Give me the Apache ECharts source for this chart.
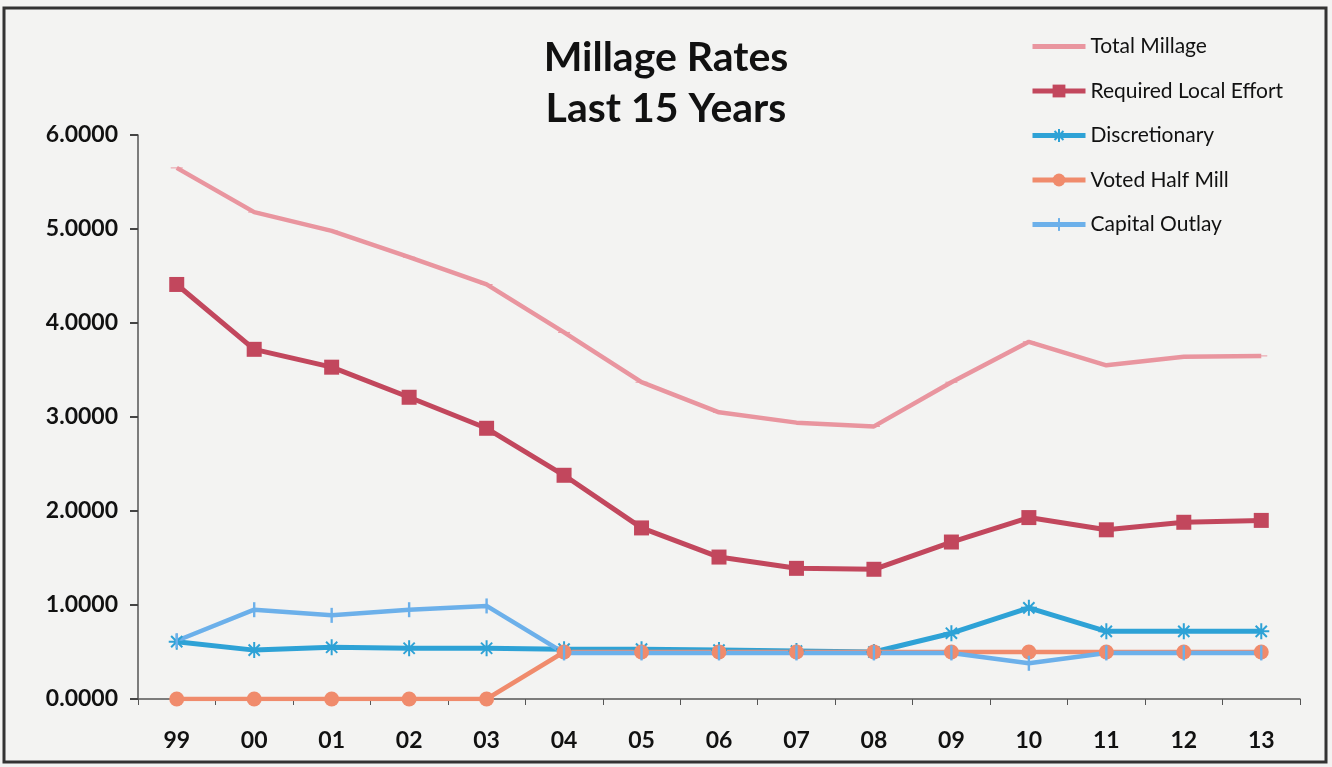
<!DOCTYPE html>
<html><head><meta charset="utf-8">
<script src="https://cdn.jsdelivr.net/npm/echarts@6/dist/echarts.min.js"></script>
<style>html,body{margin:0;padding:0;background:#f3f3f2}#c{width:1332px;height:767px}</style>
</head><body><div id="c"></div>
<script>
const years = ['99','00','01','02','03','04','05','06','07','08','09','10','11','12','13'];
const totalMillage = [5.65,5.18,4.98,4.70,4.41,3.90,3.37,3.05,2.94,2.90,3.37,3.80,3.55,3.64,3.65];
const requiredLocalEffort = [4.41,3.72,3.53,3.21,2.88,2.38,1.82,1.51,1.39,1.38,1.67,1.93,1.80,1.88,1.90];
const discretionary = [0.61,0.52,0.55,0.54,0.54,0.53,0.53,0.52,0.51,0.50,0.70,0.97,0.72,0.72,0.72];
const votedHalfMill = [0,0,0,0,0,0.50,0.50,0.50,0.50,0.50,0.50,0.50,0.50,0.50,0.50];
const capitalOutlay = [0.62,0.95,0.89,0.95,0.99,0.49,0.49,0.49,0.49,0.49,0.49,0.38,0.49,0.49,0.49];
const yTicks = [0,1,2,3,4,5,6];

const font = 'Lato, "Open Sans", sans-serif';
const C = {
  total:'#e9959f', req:'#c2475d', disc:'#2ea2d6', voted:'#f08b6c', cap:'#6cb0ea'
};
const asterisk = 'path://M5,0L5,10M0,5L10,5M1.5,1.5L8.5,8.5M8.5,1.5L1.5,8.5';
const vbar = 'path://M0,0M10,10M4.2,0L5.8,0L5.8,10L4.2,10Z';
const hbar = 'path://M0,0M10,10M0,4.6L10,4.6L10,5.4L0,5.4Z';

const chart = echarts.init(document.getElementById('c'));
chart.setOption({
  backgroundColor:'#f3f3f2',
  animation:false,
  title:{
    text:'Millage Rates\nLast 15 Years',
    left:'center', top:27,
    textStyle:{fontFamily:font, fontSize:41, fontWeight:'bold', color:'#111', lineHeight:51}
  },
  legend:{
    orient:'vertical', left:1025, top:31, itemGap:23.5, itemWidth:53, itemHeight:16,
    textStyle:{fontFamily:font, fontSize:21, color:'#111'},
    lineStyle:{width:5},
    data:['Total Millage','Required Local Effort','Discretionary','Voted Half Mill','Capital Outlay']
  },
  graphic:[{type:'rect', shape:{x:4,y:8,width:1322,height:754}, style:{fill:'none', stroke:'#333', lineWidth:3}, silent:true}],
  grid:{left:138, right:32, top:135, bottom:68},
  xAxis:{
    type:'category', data:years, boundaryGap:true,
    axisLine:{lineStyle:{color:'#555', width:1.5}},
    axisTick:{show:true, length:6, lineStyle:{color:'#555'}},
    axisLabel:{fontFamily:font, fontSize:23, fontWeight:'bold', color:'#111', margin:30}
  },
  yAxis:{
    type:'value', min:yTicks[0], max:yTicks[yTicks.length-1], interval:1,
    axisLine:{show:true, lineStyle:{color:'#555', width:1.5}},
    axisTick:{show:true, length:8, lineStyle:{color:'#444', width:2}},
    splitLine:{show:false},
    axisLabel:{fontFamily:font, fontSize:23, fontWeight:'bold', color:'#111', margin:20,
      formatter:v=>v.toFixed(4)}
  },
  series:[
    {name:'Total Millage', type:'line', data:totalMillage, color:C.total,
     lineStyle:{width:4.5}, symbol:hbar, symbolSize:12, itemStyle:{color:C.total}},
    {name:'Required Local Effort', type:'line', data:requiredLocalEffort, color:C.req,
     lineStyle:{width:5}, symbol:'rect', symbolSize:15, itemStyle:{color:C.req}},
    {name:'Discretionary', type:'line', data:discretionary, color:C.disc,
     lineStyle:{width:5}, symbol:asterisk, symbolSize:16,
     itemStyle:{color:C.disc, borderColor:C.disc, borderWidth:2}},
    {name:'Voted Half Mill', type:'line', data:votedHalfMill, color:C.voted,
     lineStyle:{width:4.5}, symbol:'circle', symbolSize:15, itemStyle:{color:C.voted}},
    {name:'Capital Outlay', type:'line', data:capitalOutlay, color:C.cap,
     lineStyle:{width:4.5}, symbol:vbar, symbolSize:15, itemStyle:{color:C.cap}}
  ]
});
</script></body></html>
